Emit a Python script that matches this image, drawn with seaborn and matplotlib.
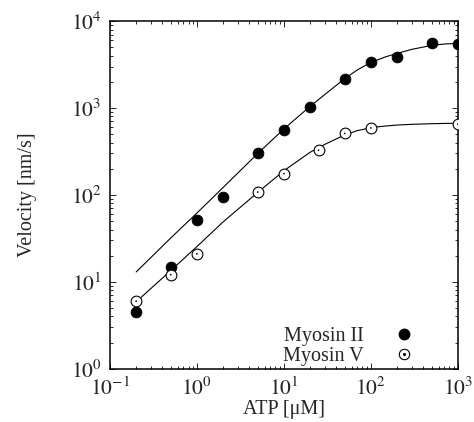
import matplotlib
matplotlib.use("Agg")
import matplotlib.pyplot as plt
from matplotlib.legend_handler import HandlerTuple
from matplotlib.ticker import FuncFormatter
import numpy as np
import pandas as pd
import seaborn as sns

# measured points
atp_ii = [0.2, 0.5, 1, 2, 5, 10, 20, 50, 100, 200, 500, 1000]
vel_ii = [4.5, 15, 51, 95, 305, 560, 1040, 2170, 3380, 3890, 5600, 5400]

atp_v = [0.2, 0.5, 1, 5, 10, 25, 50, 100, 1000]
vel_v = [6.0, 12.1, 21, 108, 176, 327, 510, 590, 650]

# fitted curves
fit_atp = [0.2, 0.5, 1, 2, 5, 10, 20, 30, 50, 70, 100, 150, 200, 300, 500, 700, 1000]
fit_ii = [13, 32, 62, 122, 300, 575, 1045, 1450, 2180, 2750, 3350, 3900, 4250, 4750, 5250, 5450, 5550]
fit_v = [5.9, 13.5, 25.5, 49, 107, 190, 310, 385, 490, 550, 595, 622, 637, 650, 660, 665, 669]

sns.set_theme(style="ticks")
plt.rcParams["font.family"] = ["Liberation Serif", "DejaVu Serif"]
plt.rcParams["mathtext.fontset"] = "stix"
plt.rcParams["font.size"] = 14.5

fig = plt.figure(figsize=(4.74, 4.22), dpi=100)
ax = fig.add_axes([0.232, 0.126, 0.734, 0.824])

fits = pd.DataFrame({"atp": fit_atp, "ii": fit_ii, "v": fit_v})
sns.lineplot(data=fits, x="atp", y="ii", ax=ax, color="black", lw=0.8)
sns.lineplot(data=fits, x="atp", y="v", ax=ax, color="black", lw=0.8)

sns.scatterplot(x=atp_ii, y=vel_ii, ax=ax, s=60, color="black", edgecolor="black", zorder=3)
sns.scatterplot(x=atp_v, y=vel_v, ax=ax, s=60, facecolor="white", edgecolor="black",
                linewidth=0.8, zorder=3)
sns.scatterplot(x=atp_v, y=vel_v, ax=ax, s=1.5, color="black", edgecolor="none", zorder=4)

ax.set_xscale("log")
ax.set_yscale("log")
ax.set_xlim(0.1, 1000)
ax.set_ylim(1, 10000)
pow10 = FuncFormatter(lambda v, p: r"$10^{%d}$" % round(np.log10(v)))
ax.xaxis.set_major_formatter(pow10)
ax.yaxis.set_major_formatter(pow10)
ax.set_xlabel("ATP [μM]", fontsize=14.5, labelpad=0)
ax.set_ylabel("Velocity [nm/s]", fontsize=14.5, labelpad=24)

ax.tick_params(which="both", direction="in", top=True, right=True, labelsize=15.5, width=0.7)
ax.tick_params(which="major", length=4, pad=6)
ax.tick_params(which="minor", length=2.2)
for sp in ax.spines.values():
    sp.set_linewidth(1.1)
    sp.set_color("black")

# legend with text first, marker after (gnuplot style)
h_ii = plt.Line2D([], [], ls="", marker="o", ms=7.5, color="black")
h_v_ring = plt.Line2D([], [], ls="", marker="o", ms=7.5, mfc="white", mec="black", mew=0.8)
h_v_dot = plt.Line2D([], [], ls="", marker="o", ms=1.2, color="black")
ax.legend([h_ii, (h_v_ring, h_v_dot)], ["Myosin II", "Myosin V"],
          handler_map={tuple: HandlerTuple(ndivide=1, pad=0)},
          loc="lower right", bbox_to_anchor=(0.926, -0.045), frameon=False,
          markerfirst=False, handlelength=1.0, handletextpad=1.5,
          labelspacing=0.05, fontsize=14.5)

fig.savefig("out.png", dpi=100)
